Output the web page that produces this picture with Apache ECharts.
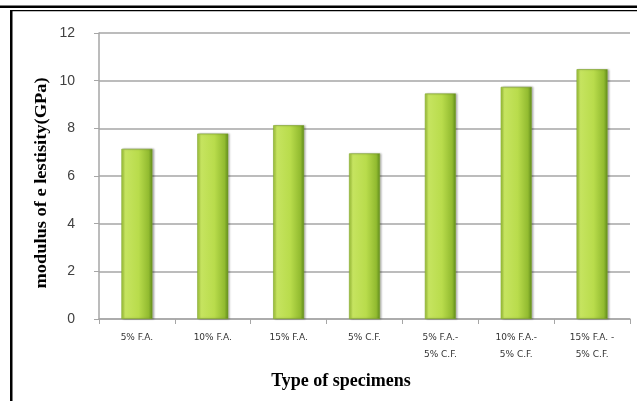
<!DOCTYPE html>
<html>
<head>
<meta charset="utf-8">
<script src="https://cdn.jsdelivr.net/npm/echarts@6/dist/echarts.min.js"></script>
<style>
html,body{margin:0;padding:0;background:#fff;}
#c{width:637px;height:401px;}
</style>
</head>
<body>
<div id="c"></div>
<script>
const categories = ['5% F.A.', '10% F.A.', '15% F.A.', '5% C.F.', '5% F.A.-\n5% C.F.', '10% F.A.-\n5% C.F.', '15% F.A. -\n5% C.F.'];
const modulus = [7.14, 7.78, 8.13, 6.95, 9.46, 9.74, 10.48];
const yTicks = [0, 2, 4, 6, 8, 10, 12];

const chart = echarts.init(document.getElementById('c'));
const barColor = new echarts.graphic.LinearGradient(0, 0, 1, 0, [
  {offset: 0, color: '#a3c93a'},
  {offset: 0.12, color: '#c6e460'},
  {offset: 0.55, color: '#b9dc4c'},
  {offset: 0.88, color: '#92bb30'},
  {offset: 1, color: '#5e8a1c'}
]);
chart.setOption({
  animation: false,
  grid: {left: 99, right: 7, top: 33, bottom: 82},
  xAxis: {
    type: 'category',
    data: categories,
    axisLine: {lineStyle: {color: '#a6a6a6', width: 1.5}},
    axisTick: {show: true, length: 5, lineStyle: {color: '#a6a6a6'}},
    axisLabel: {color: '#333', fontFamily: 'DejaVu Sans', fontSize: 9, lineHeight: 17, margin: 10, interval: 0}
  },
  yAxis: {
    type: 'value',
    min: 0, max: 12, interval: 2,
    axisLine: {show: true, lineStyle: {color: '#a6a6a6', width: 1.5}},
    axisTick: {show: true, length: 5, lineStyle: {color: '#a6a6a6'}},
    splitLine: {lineStyle: {color: '#a6a6a6', width: 1.5}},
    axisLabel: {color: '#404040', fontFamily: 'Liberation Sans', fontSize: 14, margin: 24,
      formatter: v => yTicks.includes(v) ? String(v) : ''}
  },
  series: [{
    type: 'bar',
    data: modulus,
    barWidth: 31,
    itemStyle: {
      color: barColor,
      borderColor: '#7da52a',
      borderWidth: 0.6,
      shadowColor: 'rgba(0,0,0,0.3)',
      shadowBlur: 2,
      shadowOffsetX: 1.5,
      shadowOffsetY: 0
    }
  }],
  graphic: [
    {type: 'rect', shape: {x: 0, y: 5.5, width: 637, height: 2.5}, style: {fill: '#000'}, silent: true},
    {type: 'rect', shape: {x: 10, y: 10, width: 627, height: 1.2}, style: {fill: '#000'}, silent: true},
    {type: 'rect', shape: {x: 10, y: 10, width: 2.5, height: 391}, style: {fill: '#000'}, silent: true},
    {type: 'text', x: 42, y: 183, rotation: Math.PI / 2, scaleX: 1.15,
      style: {text: 'modulus of e lestisity(GPa)', font: 'bold 16px "Liberation Serif"', fill: '#000', textAlign: 'center', textVerticalAlign: 'middle'}},
    {type: 'text', x: 341, y: 381,
      style: {text: 'Type of specimens', font: 'bold 18px "Liberation Serif"', fill: '#000', textAlign: 'center', textVerticalAlign: 'middle'}}
  ]
});
</script>
</body>
</html>
